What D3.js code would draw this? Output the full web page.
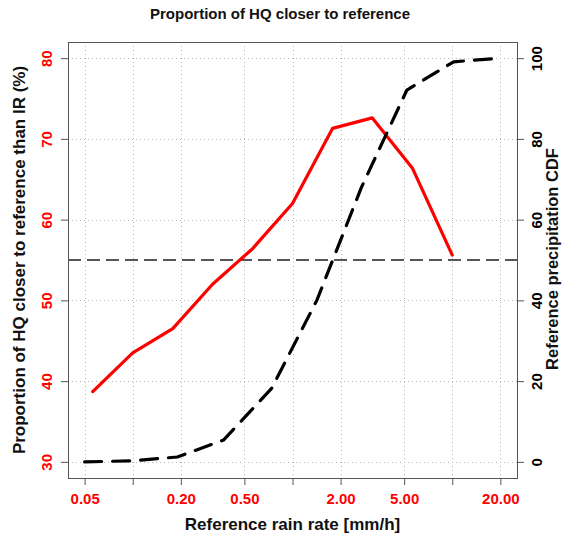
<!DOCTYPE html>
<html>
<head>
<meta charset="utf-8">
<script src="https://cdn.jsdelivr.net/npm/d3@7"></script>
<style>
  body { margin: 0; background: #fff; }
  svg { display: block; font-family: "Liberation Sans", Arial, Helvetica, sans-serif; }
</style>
</head>
<body>
<svg id="chart" width="565" height="538"></svg>
<script>
// ---- data ----
const hqRainRate = [0.0562, 0.1, 0.178, 0.316, 0.562, 1.0, 1.78, 3.16, 5.62, 10.0];
const hqProportion = [38.7, 43.5, 46.5, 52.0, 56.4, 62.0, 71.3, 72.6, 66.4, 55.6];
const cdfRainRate = [0.05, 0.1, 0.19, 0.37, 0.74, 1.42, 2.7, 5.2, 10.2, 20];
const cdfValues = [0, 0.25, 1.2, 5.4, 18.2, 40, 68, 92.1, 99.1, 100];
const refLineValue = 55;
const xTicks = [0.05, 0.1, 0.2, 0.5, 1, 2, 5, 10, 20];
const xTickLabels = ["0.05", "", "0.20", "0.50", "", "2.00", "5.00", "", "20.00"];
const leftTicks = [30, 40, 50, 60, 70, 80];
const rightTicks = [0, 20, 40, 60, 80, 100];
const titleText = "Proportion of HQ closer to reference";
const xTitle = "Reference rain rate [mm/h]";
const yLeftTitle = "Proportion of HQ closer to reference than IR (%)";
const yRightTitle = "Reference precipitation CDF";

// ---- layout ----
const box = { left: 68, right: 517, top: 42, bottom: 478 };
const svg = d3.select("#chart");

const lx0 = Math.log10(0.05), lx1 = Math.log10(20), pad = 0.04 * (lx1 - lx0);
const x = d3.scaleLog().domain([Math.pow(10, lx0 - pad), Math.pow(10, lx1 + pad)]).range([box.left, box.right]);
const yL = d3.scaleLinear().domain([28, 82]).range([box.bottom, box.top]);
const yR = d3.scaleLinear().domain([-4, 104]).range([box.bottom, box.top]);

// grid
const grid = svg.append("g").attr("stroke", "#b8b8b8").attr("stroke-width", 1).attr("stroke-dasharray", "1,3");
grid.selectAll("line.v").data(xTicks).join("line")
  .attr("x1", d => Math.round(x(d)) + 0.5).attr("x2", d => Math.round(x(d)) + 0.5)
  .attr("y1", box.top).attr("y2", box.bottom);
grid.selectAll("line.h").data(leftTicks).join("line")
  .attr("y1", d => Math.round(yL(d)) + 0.5).attr("y2", d => Math.round(yL(d)) + 0.5)
  .attr("x1", box.left).attr("x2", box.right);

// reference horizontal line
svg.append("line")
  .attr("x1", box.left).attr("x2", box.right)
  .attr("y1", yL(refLineValue)).attr("y2", yL(refLineValue))
  .attr("stroke", "#555").attr("stroke-width", 2.2).attr("stroke-dasharray", "13,6");

// red line
svg.append("path")
  .datum(hqRainRate.map((r, i) => [r, hqProportion[i]]))
  .attr("fill", "none").attr("stroke", "#ff0000").attr("stroke-width", 3.2)
  .attr("stroke-linejoin", "round").attr("stroke-linecap", "round")
  .attr("d", d3.line().x(d => x(d[0])).y(d => yL(d[1])));

// black dashed CDF
svg.append("path")
  .datum(cdfRainRate.map((r, i) => [r, cdfValues[i]]))
  .attr("fill", "none").attr("stroke", "#000").attr("stroke-width", 3.2)
  .attr("stroke-linejoin", "round").attr("stroke-linecap", "round")
  .attr("stroke-dasharray", "17,11")
  .attr("d", d3.line().x(d => x(d[0])).y(d => yR(d[1])));

// box
svg.append("rect")
  .attr("x", box.left + 0.5).attr("y", box.top + 0.5)
  .attr("width", box.right - box.left).attr("height", box.bottom - box.top)
  .attr("fill", "none").attr("stroke", "#555").attr("stroke-width", 1);

// axes
const tickColor = "#555";
const xAxis = svg.append("g").attr("transform", `translate(0,${box.bottom})`)
  .call(d3.axisBottom(x).tickValues(xTicks).tickSize(7).tickFormat((d, i) => xTickLabels[i]));
const yLeftAxis = svg.append("g").attr("transform", `translate(${box.left},0)`)
  .call(d3.axisLeft(yL).tickValues(leftTicks).tickSize(7).tickFormat(d3.format("d")));
const yRightAxis = svg.append("g").attr("transform", `translate(${box.right},0)`)
  .call(d3.axisRight(yR).tickValues(rightTicks).tickSize(7).tickFormat(d3.format("d")));

[xAxis, yLeftAxis, yRightAxis].forEach(a => {
  a.select(".domain").remove();
  a.selectAll(".tick line").attr("stroke", tickColor).attr("stroke-width", 1);
  a.selectAll(".tick text").attr("font-family", null).attr("font-size", 15).attr("font-weight", "bold");
});
xAxis.selectAll(".tick text").attr("fill", "#ff0000").attr("y", 0).attr("dy", 0).attr("transform", "translate(0,26)");
yLeftAxis.selectAll(".tick text").attr("fill", "#ff0000").attr("x", 0).attr("dy", 0)
  .attr("text-anchor", "middle").attr("transform", "translate(-16.5,0) rotate(-90)");
yRightAxis.selectAll(".tick text").attr("fill", "#000").attr("x", 0).attr("dy", 0)
  .attr("text-anchor", "middle").attr("transform", "translate(24.5,0) rotate(-90)");

// titles
svg.append("text").attr("x", 280).attr("y", 19).attr("text-anchor", "middle")
  .attr("font-size", 15).attr("font-weight", "bold").attr("fill", "#111").text(titleText);
svg.append("text").attr("x", (box.left + box.right) / 2).attr("y", 530).attr("text-anchor", "middle")
  .attr("font-size", 17).attr("font-weight", "bold").attr("fill", "#111").text(xTitle);
svg.append("text").attr("transform", `translate(25,${(box.top + box.bottom) / 2}) rotate(-90)`)
  .attr("text-anchor", "middle").attr("font-size", 17).attr("font-weight", "bold").attr("fill", "#111").text(yLeftTitle);
svg.append("text").attr("transform", `translate(557.5,${(box.top + box.bottom) / 2 - 1}) rotate(-90)`)
  .attr("text-anchor", "middle").attr("font-size", 16.5).attr("font-weight", "bold").attr("fill", "#111").text(yRightTitle);
</script>
</body>
</html>
